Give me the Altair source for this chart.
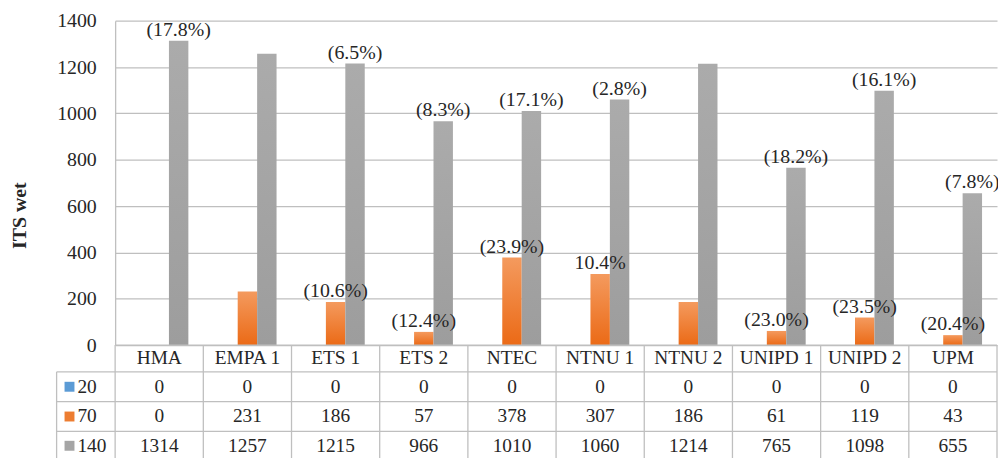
import altair as alt
import pandas as pd

# ---------------- data ----------------
CATEGORIES = ["HMA", "EMPA 1", "ETS 1", "ETS 2", "NTEC", "NTNU 1", "NTNU 2", "UNIPD 1", "UNIPD 2", "UPM"]
SERIES = ["20", "70", "140"]
VALUES_20 = [0, 0, 0, 0, 0, 0, 0, 0, 0, 0]
VALUES_70 = [0, 231, 186, 57, 378, 307, 186, 61, 119, 43]
VALUES_140 = [1314, 1257, 1215, 966, 1010, 1060, 1214, 765, 1098, 655]
LABELS_20 = ["", "", "", "", "", "", "", "", "", ""]
LABELS_70 = ["", "", "(10.6%)", "(12.4%)", "(23.9%)", "10.4%", "", "(23.0%)", "(23.5%)", "(20.4%)"]
LABELS_140 = ["(17.8%)", "", "(6.5%)", "(8.3%)", "(17.1%)", "(2.8%)", "", "(18.2%)", "(16.1%)", "(7.8%)"]
Y_TICKS = [0, 200, 400, 600, 800, 1000, 1200, 1400]
Y_TITLE = "ITS wet"

SERIES_COLORS = {"20": "#5B9BD5", "70": "#ED7D31", "140": "#A5A5A5"}

rows = []
for s, vals, labs in [("20", VALUES_20, LABELS_20), ("70", VALUES_70, LABELS_70), ("140", VALUES_140, LABELS_140)]:
    for c, v, l in zip(CATEGORIES, vals, labs):
        rows.append({"category": c, "series": s, "value": v, "label": l})
df = pd.DataFrame(rows)
cat_df = pd.DataFrame({"category": CATEGORIES})

# ---------------- layout ----------------
W, H = 889, 327
FONT = "Liberation Serif"
TXT = "#262626"
LINE = "#BFBFBF"
HEADER_BOTTOM = 354
ROW_LINES = [384, 414, 443]
HEADER_CENTER = 340
ROW_CENTERS = [369, 399, 428.5]
LEFT_EDGE = -59

x_enc = alt.X("category:N", sort=CATEGORIES,
              scale=alt.Scale(domain=CATEGORIES, paddingInner=0, paddingOuter=0), axis=None)
xoff_enc = alt.XOffset("series:N", sort=SERIES,
                       scale=alt.Scale(domain=SERIES, paddingInner=0, paddingOuter=0.77))
y_enc = alt.Y("value:Q", scale=alt.Scale(domain=[0, 1400], nice=False),
              axis=alt.Axis(values=Y_TICKS, format="d", grid=True, gridColor=LINE, gridWidth=1.3,
                            domain=True, domainColor=LINE, domainWidth=1.3,
                            ticks=False, tickSize=0, labelPadding=19,
                            labelFont=FONT, labelFontSize=20, labelColor=TXT,
                            title=Y_TITLE, titleFont=FONT, titleFontSize=20, titleFontWeight="bold",
                            titleColor=TXT, titleX=-96, titleY=196, titleAngle=270,
                            titleAlign="center", titleBaseline="middle"))

def grad(top, bottom):
    return alt.Gradient(gradient="linear",
                        stops=[alt.GradientStop(color=top, offset=0),
                               alt.GradientStop(color=bottom, offset=1)],
                        x1=0, x2=0, y1=0, y2=1)

GRADS = {"20": grad("#6AA6DC", "#4A8ACB"),
         "70": grad("#F49A5E", "#EB6A16"),
         "140": grad("#ABABAB", "#9D9D9D")}

layers = []
for s in SERIES:
    layers.append(
        alt.Chart(df).transform_filter(alt.datum.series == s)
        .mark_bar(color=GRADS[s])
        .encode(x=x_enc, xOffset=xoff_enc, y=y_enc)
    )

# percentage labels
layers.append(
    alt.Chart(df).transform_filter(alt.datum.label != "")
    .mark_text(font=FONT, fontSize=20, color=TXT, dy=-5, baseline="alphabetic", align="center")
    .encode(x=x_enc, xOffset=xoff_enc, y=y_enc, text="label:N")
)

# table: horizontal lines
layers.append(alt.Chart(cat_df.head(1)).mark_rule(color=LINE, strokeWidth=1.3).encode(
    x=alt.value(0), x2=alt.value(W), y=alt.value(H)))
for yv in [HEADER_BOTTOM] + ROW_LINES:
    layers.append(alt.Chart(cat_df.head(1)).mark_rule(color=LINE, strokeWidth=1.3).encode(
        x=alt.value(LEFT_EDGE), x2=alt.value(W), y=alt.value(yv)))
# table: vertical lines
layers.append(alt.Chart(cat_df).mark_rule(color=LINE, strokeWidth=1.3).encode(
    x=alt.X("category:N", sort=CATEGORIES, bandPosition=0,
            scale=alt.Scale(domain=CATEGORIES, paddingInner=0, paddingOuter=0), axis=None),
    y=alt.value(H), y2=alt.value(ROW_LINES[-1])))
layers.append(alt.Chart(cat_df.head(1)).mark_rule(color=LINE, strokeWidth=1.3).encode(
    x=alt.value(W), y=alt.value(H), y2=alt.value(ROW_LINES[-1])))
layers.append(alt.Chart(cat_df.head(1)).mark_rule(color=LINE, strokeWidth=1.3).encode(
    x=alt.value(LEFT_EDGE), y=alt.value(HEADER_BOTTOM), y2=alt.value(ROW_LINES[-1])))

# table: header
layers.append(alt.Chart(cat_df).mark_text(font=FONT, fontSize=19.5, color=TXT, baseline="middle").encode(
    x=x_enc, y=alt.value(HEADER_CENTER), text="category:N"))

# table: rows
for s, yc in zip(SERIES, ROW_CENTERS):
    layers.append(
        alt.Chart(df).transform_filter(alt.datum.series == s)
        .mark_text(font=FONT, fontSize=19.5, color=TXT, baseline="middle")
        .encode(x=x_enc, y=alt.value(yc), text="value:Q")
    )
    sdf = pd.DataFrame({"series": [s]})
    layers.append(alt.Chart(sdf).mark_square(size=100, color=SERIES_COLORS[s], opacity=1).encode(
        x=alt.value(-46), y=alt.value(yc)))
    layers.append(alt.Chart(sdf).mark_text(font=FONT, fontSize=19.5, color=TXT, align="left",
                                           baseline="middle").encode(
        x=alt.value(-38), y=alt.value(yc), text="series:N"))

chart = alt.layer(*layers).properties(
    width=W, height=H,
    padding={"left": 108, "top": 11, "right": 1, "bottom": 112},
    autosize=alt.AutoSizeParams(type="none"),
).configure_view(stroke=None)

chart.save("out.html", embed_options={"renderer": "svg", "actions": False})
